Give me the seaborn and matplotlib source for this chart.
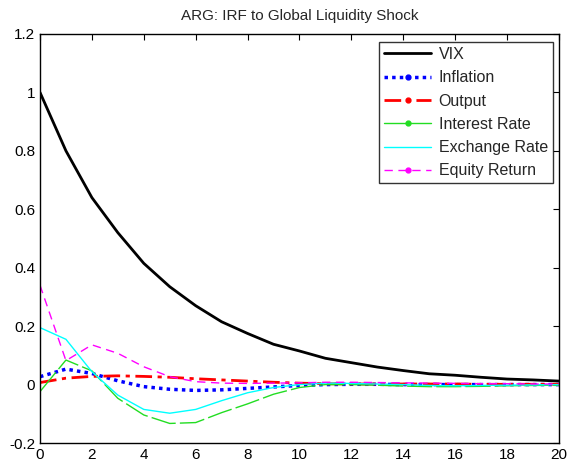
import matplotlib
matplotlib.use('Agg')
import matplotlib.pyplot as plt
import seaborn as sns
from matplotlib.lines import Line2D
from matplotlib.ticker import FuncFormatter

# horizon (periods after the shock)
periods = list(range(21))

vix = [1.0, 0.80, 0.64, 0.52, 0.415, 0.335, 0.27, 0.215, 0.175, 0.138, 0.115,
       0.09, 0.075, 0.06, 0.048, 0.037, 0.032, 0.025, 0.019, 0.016, 0.012]
inflation = [0.027, 0.053, 0.038, 0.013, -0.007, -0.016, -0.02, -0.018, -0.013, -0.008, -0.003,
             0.0, 0.001, 0.001, 0.0, 0.0, 0.0, 0.0, 0.0, 0.0, 0.0]
output = [0.007, 0.022, 0.028, 0.03, 0.028, 0.025, 0.02, 0.016, 0.012, 0.008, 0.005,
          0.003, 0.002, 0.002, 0.002, 0.002, 0.002, 0.001, 0.001, 0.001, 0.001]
interest = [-0.024, 0.084, 0.047, -0.047, -0.104, -0.133, -0.13, -0.096, -0.066, -0.033, -0.01,
            0.0, 0.0, -0.002, -0.005, -0.007, -0.007, -0.006, -0.004, -0.003, -0.002]
exchange = [0.195, 0.155, 0.044, -0.036, -0.085, -0.098, -0.085, -0.055, -0.028, -0.01, 0.0,
            0.005, 0.004, 0.002, 0.0, -0.003, -0.004, -0.003, -0.002, -0.001, 0.0]
equity = [0.34, 0.082, 0.136, 0.107, 0.061, 0.027, 0.01, 0.005, 0.004, 0.005, 0.006,
          0.008, 0.008, 0.007, 0.006, 0.005, 0.004, 0.003, 0.003, 0.002, 0.002]

labels = ['VIX', 'Inflation', 'Output', 'Interest Rate', 'Exchange Rate', 'Equity Return']

sns.set_style('white')
plt.rcParams['font.family'] = ['Liberation Sans', 'DejaVu Sans']
plt.rcParams['font.size'] = 11

fig = plt.figure(figsize=(5.69, 4.70), dpi=100)
ax = fig.add_axes([0.0703, 0.0574, 0.912, 0.8703])

series = [
    (vix, dict(color='black', linewidth=2.0, linestyle='-')),
    (inflation, dict(color='blue', linewidth=2.5, linestyle=(0, (1, 1.2)))),
    (output, dict(color='red', linewidth=2.0, linestyle=(0, (6, 2, 1.5, 2)))),
    (interest, dict(color='#22dd22', linewidth=1.0, linestyle=(0, (18, 3)))),
    (exchange, dict(color='cyan', linewidth=1.0, linestyle='-')),
    (equity, dict(color='magenta', linewidth=1.0, linestyle=(0, (6, 4)))),
]

handles = []
for (vals, st), lab in zip(series, labels):
    sns.lineplot(x=periods, y=vals, ax=ax, **st)
    mk = None if lab in ('VIX', 'Exchange Rate') else 'o'
    hst = dict(st)
    if lab == 'Interest Rate':
        hst['linestyle'] = '-'
    handles.append(Line2D([], [], marker=mk, markersize=3.5, **hst))

ax.set_xlim(0, 20)
ax.set_ylim(-0.2, 1.2)
ax.set_xticks(range(0, 21, 2))
ax.set_yticks([-0.2, 0, 0.2, 0.4, 0.6, 0.8, 1.0, 1.2])
ax.yaxis.set_major_formatter(FuncFormatter(lambda v, p: '%g' % round(v, 2)))
ax.tick_params(direction='in', top=True, right=True, length=4, width=0.8,
               labelsize=11, colors='black')
for s in ax.spines.values():
    s.set_color('black')
    s.set_linewidth(1.0)

ax.set_title('ARG: IRF to Global Liquidity Shock', fontsize=11, pad=10)

leg = ax.legend(handles, labels, loc='upper right', bbox_to_anchor=(0.988, 0.98),
                borderaxespad=0, fontsize=11.5, frameon=True, fancybox=False,
                edgecolor='black', handlelength=3.0, labelspacing=0.52,
                borderpad=0.3, handletextpad=0.45, numpoints=1)
leg.get_frame().set_linewidth(1.0)

fig.savefig('out.png', dpi=100)
